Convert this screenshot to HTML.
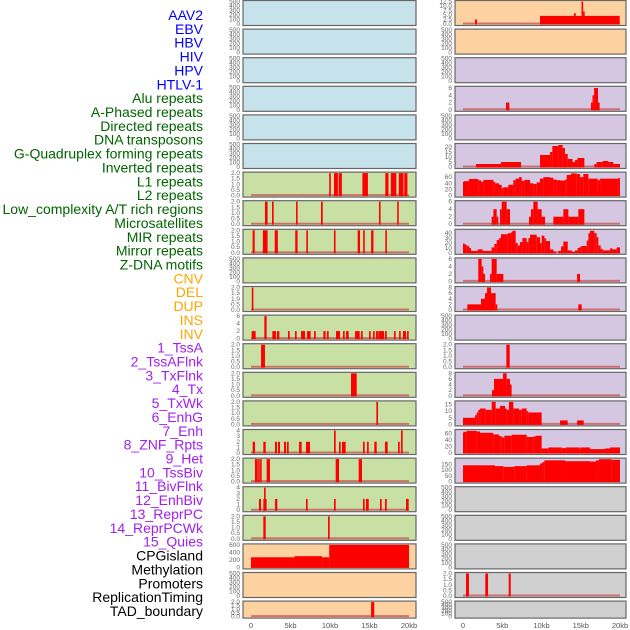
<!DOCTYPE html>
<html><head><meta charset="utf-8">
<style>
html,body{margin:0;padding:0;background:#fff;}
svg{display:block;font-family:"Liberation Sans",sans-serif;}
</style></head>
<body>
<svg id="chart" width="630" height="630" viewBox="0 0 630 630" xmlns="http://www.w3.org/2000/svg"></svg>
<script>
// ---- labels ----
const trackLabels = ["AAV2","EBV","HBV","HIV","HPV","HTLV-1","Alu repeats","A-Phased repeats","Directed repeats","DNA transposons","G-Quadruplex forming repeats","Inverted repeats","L1 repeats","L2 repeats","Low_complexity A/T rich regions","Microsatellites","MIR repeats","Mirror repeats","Z-DNA motifs","CNV","DEL","DUP","INS","INV","1_TssA","2_TssAFlnk","3_TxFlnk","4_Tx","5_TxWk","6_EnhG","7_Enh","8_ZNF_Rpts","9_Het","10_TssBiv","11_BivFlnk","12_EnhBiv","13_ReprPC","14_ReprPCWk","15_Quies","CPGisland","Methylation","Promoters","ReplicationTiming","TAD_boundary"];
const labelGroups = [6,13,5,15,5];
const groupColors = ["#0000ff","#006400","#ffa500","#a020f0","#000000"];
const xTickValues = [0,5,10,15,20];
const xTickLabels = ["0","5kb","10kb","15kb","20kb"];

// ---- left column data [startKb,endKb,value] ----
const l7 = [[9.9,10.1,2],[10.5,11.0,2],[11.1,11.5,2],[14.1,14.8,2],[17.0,17.4,2],[17.7,18.4,2],[18.7,19.3,2],[19.4,19.8,2]];
const l8 = [[1.77,2.1,2],[2.66,2.87,2],[5.7,5.9,2],[8.86,9.08,2],[16.2,16.4,2],[18.5,18.7,2]];
const l9 = [[0.2,0.47,2],[1.5,2.1,2],[3.0,3.4,2],[5.6,5.9,2],[7.0,7.2,2],[10.5,10.7,2],[13.5,13.8,2],[14.2,14.4,2],[15.2,15.5,2],[17.0,17.2,2]];
const l11 = [[0.1,0.3,2]];
const l12 = [[0.08,0.59,2],[1.69,1.98,6],[2.7,3.17,2],[3.29,3.59,2],[4.68,4.9,2],[5.57,5.78,2],[6.33,6.84,2],[7.09,7.55,2],[7.98,8.19,2],[9.16,9.45,2],[9.62,9.83,2],[10.76,11.27,2],[11.65,11.86,2],[12.03,12.36,2],[13.17,13.76,2],[13.93,14.14,2],[14.94,15.15,2],[15.45,15.66,2],[15.83,16.12,2],[16.16,16.84,2],[16.96,17.18,2],[18.1,18.31,2],[18.74,18.95,2],[19.24,19.62,2],[19.75,19.96,2]];
const l13 = [[1.27,1.77,2]];
const l14 = [[12.66,13.38,2]];
const l15 = [[15.87,16.08,2]];
const l16 = [[0.21,0.51,2],[1.56,1.86,2],[3.04,3.29,2],[3.42,3.67,2],[4.18,4.43,2],[4.56,4.77,2],[6.08,6.41,2],[6.96,7.47,2],[10.51,10.72,4],[11.14,11.35,2],[11.52,11.98,2],[14.18,14.39,2],[14.69,14.9,2],[15.61,15.91,2],[16.96,17.3,2],[18.61,18.82,2],[18.99,19.2,4]];
const l17 = [[0.5,0.85,2],[0.9,1.1,2],[1.15,1.35,2],[1.98,2.4,2],[10.72,11.14,2],[13.63,14.05,2]];
const l18 = [[1.01,1.27,2],[1.56,1.65,2],[1.65,1.77,4],[1.77,1.86,2],[3.04,3.33,2],[6.96,7.17,2],[10.51,10.72,2],[14.18,14.39,2],[14.56,14.9,2],[16.33,16.54,2],[16.96,17.18,2],[19.62,19.96,2]];
const l19 = [[1.56,1.86,2],[9.75,9.96,2]];
const l20 = [[0,5.5,270],[5.5,9.0,300],[9.0,9.9,270],[9.9,20,600]];
const l22 = [[15.2,15.6,2]];

// ---- right column data ----
const r1 = [[1.53,1.78,2.5],[9.81,19.96,4.5],[14.14,14.36,6],[15.1,15.3,13],[15.3,15.45,7]];
const r4 = [[5.48,5.9,2],[16.3,16.5,2],[16.5,16.7,4],[16.7,17.2,6],[17.2,17.3,2]];
const r6 = [[1.66,4.84,3],[4.84,7.39,5],[9.81,11.09,12],[11.09,11.38,15],[11.38,12.15,21],[12.15,12.7,22],[12.7,12.99,19],[12.99,13.34,13],[13.34,13.97,8],[13.97,14.27,5],[14.27,14.57,7],[14.57,15.46,9],[16.73,17.03,3],[17.03,17.8,5],[17.8,18.52,6],[18.52,19.15,5],[19.15,20.0,3]];
const r7 = [[0,0.17,45],[0.17,0.77,47],[0.77,1.95,54],[1.95,2.29,50],[2.29,2.59,45],[2.59,3.87,51],[3.87,4.08,45],[4.08,4.59,40],[4.59,4.93,35],[4.93,5.14,25],[5.14,5.78,27],[5.78,6.41,35],[6.41,6.71,50],[6.71,7.14,55],[7.14,7.48,60],[7.48,7.82,48],[7.82,8.54,51],[8.54,8.96,40],[8.96,9.39,38],[9.39,9.81,43],[9.81,10.24,55],[10.24,11.09,60],[11.09,11.51,58],[11.51,11.93,52],[11.93,12.36,50],[12.36,13.0,49],[13.0,13.21,52],[13.21,13.76,67],[13.76,14.48,72],[14.48,14.91,70],[14.91,15.33,60],[15.33,15.97,70],[15.97,17.16,55],[17.16,17.46,50],[17.46,19.79,55],[19.79,20.0,57]];
const r8 = [[3.65,3.87,2],[3.87,4.29,4],[4.29,4.42,2],[4.71,4.93,4],[4.93,5.56,6],[5.56,5.99,4],[8.41,8.66,2],[8.66,8.96,4],[8.96,9.51,6],[9.51,10.02,4],[10.02,10.45,2],[11.51,12.78,2],[12.78,13.42,4],[13.42,14.69,2],[14.69,15.46,4]];
const r9 = [[0,0.17,19],[0.17,0.47,17],[0.47,0.77,14],[0.77,1.02,10],[1.02,1.87,4],[1.87,2.51,7],[2.51,3.65,4],[3.65,3.99,11],[3.99,4.29,18],[4.29,4.59,26],[4.59,4.84,30],[4.84,5.69,38],[5.69,6.12,40],[6.12,6.29,42],[6.29,6.71,45],[6.71,6.97,20],[6.97,7.26,15],[7.26,7.56,22],[7.56,8.11,30],[8.11,8.33,22],[8.33,8.54,30],[8.54,9.39,37],[9.39,9.81,32],[9.81,10.02,20],[10.02,10.36,35],[10.36,10.53,30],[10.53,11.09,24],[11.09,11.51,7],[11.51,11.81,3],[12.15,12.49,4],[12.49,12.78,13],[12.78,13.34,23],[13.34,13.85,5],[13.85,14.27,2],[14.27,14.61,5],[14.61,14.91,10],[14.91,15.12,13],[15.12,15.76,14],[15.76,15.97,25],[15.97,16.18,40],[16.18,16.73,45],[16.73,17.03,40],[17.03,17.24,32],[17.24,17.54,15],[17.54,17.8,8],[17.8,18.73,5],[18.73,19.03,9],[19.03,19.58,7],[19.58,20.0,11]];
const r10 = [[1.95,2.38,6],[2.38,2.51,4],[2.51,2.8,2],[3.44,3.65,2],[3.65,4.29,6],[4.29,5.14,2],[14.53,14.91,2]];
const r11 = [[0.55,2.29,2],[2.29,2.8,4],[2.8,3.06,6],[3.06,3.57,8],[3.57,4.16,6],[4.16,4.29,2],[14.69,15.12,2]];
const r13 = [[5.52,5.95,2]];
const r14 = [[3.69,3.95,2],[3.95,5.1,6],[5.1,5.56,8],[5.56,5.99,6],[5.99,6.12,4]];
const r15 = [[0,1.53,5],[1.53,1.74,7],[1.74,1.95,9],[1.95,2.17,11],[2.17,2.89,12],[2.89,3.65,11],[3.65,4.16,17],[4.16,4.71,12],[4.71,5.35,14],[5.35,5.56,12],[5.56,5.86,11],[5.86,6.41,17],[6.41,7.14,12],[7.14,7.48,11],[7.48,8.11,12],[8.11,8.33,10],[8.33,10.02,9],[12.36,13.34,3],[14.53,15.38,3]];
const r16 = [[0,0.04,62],[0.04,0.47,65],[0.47,1.74,68],[1.74,2.17,66],[2.17,3.87,62],[3.87,4.59,57],[4.59,4.93,52],[4.93,5.27,48],[5.27,6.2,53],[6.2,8.11,56],[8.11,8.96,49],[8.96,9.3,51],[9.3,10.02,53],[10.02,10.87,14],[10.87,12.57,17],[12.57,13.08,15],[13.08,14.78,17],[14.78,14.91,14],[14.91,16.18,17],[16.18,18.09,12],[18.09,18.73,14],[18.73,20.0,17]];
const r17 = [[0,4.08,142],[4.08,5.14,135],[5.14,6.54,128],[6.54,8.11,135],[8.11,9.81,142],[9.81,10.11,158],[10.11,10.36,170],[10.36,13.0,185],[13.0,16.18,178],[16.18,16.95,175],[16.95,17.33,185],[17.33,18.94,195],[18.94,20.0,190]];
const r21 = [[0.38,0.76,2],[2.84,3.19,2],[5.82,6.08,2]];

// ---- panel configs ----
const leftData = [null,null,null,null,null,null,l7,l8,l9,null,l11,l12,l13,l14,l15,l16,l17,l18,l19,l20,null,l22];
const leftYmax = [500,500,500,500,500,500,2,2,2,500,2,6,2,2,2,4,2,4,2,600,500,2];
const leftTicks = ["e","e","e","e","e","e","h","h","h","e","h","s6","h","h","h","s4","h","s4","h","c","e","h"];
const leftBg = ["b","b","b","b","b","b","g","g","g","g","g","g","g","g","g","g","g","g","g","o","o","o"];
const rightData = [r1,null,null,r4,null,r6,r7,r8,r9,r10,r11,null,r13,r14,r15,r16,r17,null,null,null,r21,null];
const rightYmax = [12.5,500,500,6.2,500,22.5,73,6,46,6,8,500,2,8,17,69,196,500,500,500,2,500];
const rightTicks = ["a","e","e","s6","e","f20","t60","s6","f40","s6","s8","e","h","s8","f15","t60","f150","e","e","e","h","e"];
const rightBg = ["o","o","l","l","l","l","l","l","l","l","l","l","l","l","l","l","l","p","p","p","p","p"];

const tickSets = {
  e:[0,100,200,300,400,500], h:[0,0.5,1,1.5,2], s6:[0,2,4,6], s4:[0,1,2,3,4], s8:[0,2,4,6,8],
  c:[0,200,400,600], a:[0,2.5,5,7.5,10,12.5], f20:[0,5,10,15,20], t60:[0,20,40,60],
  f40:[0,10,20,30,40], f15:[0,5,10,15], f150:[0,50,100,150]
};
const bgColors = {b:"#c6e2eb",g:"#c8e0a4",o:"#fed2a0",l:"#d5c6e2",p:"#d0d0d0"};

const svg = document.getElementById('chart');
const NS = "http://www.w3.org/2000/svg";
function mk(tag, attrs, parent){
  const e = document.createElementNS(NS, tag);
  for (const k in attrs) e.setAttribute(k, attrs[k]);
  (parent||svg).appendChild(e);
  return e;
}

// labels
let li = 0;
labelGroups.forEach((n, g) => {
  for (let i = 0; i < n; i++) {
    const t = mk('text', {x:203, y:15 + li*13.86, 'text-anchor':'end', 'dominant-baseline':'central', 'font-size':'14', fill:groupColors[g]});
    
    
    t.textContent = trackLabels[li];
    li++;
  }
});

function fmt(v, key){
  if (key === 'h') return v.toFixed(1);
  if (key === 'a') return v.toFixed(1);
  return String(v);
}

function drawColumn(colName, px0, px1, x0, x1, data, ymaxs, ticks, bgs){
  const xs = kb => x0 + kb/20*(x1-x0);
  for (let i = 0; i < 22; i++) {
    const top = i*28.6 + 0.5;
    const h = (i === 21) ? 17 : 25;
    const g = mk('g', {});
    
    
    const bg = mk('rect', {x:px0, y:top, width:px1-px0, height:h, fill:bgColors[bgs[i]]}, g);
    
    
    const ymax = ymaxs[i];
    const yBot = top + h - 1.5, yTop = top + 1;
    const ys = v => yBot - v/ymax*(yBot-yTop);
    // ticks
    const tk = tickSets[ticks[i]];
    tk.forEach(v => {
      const t = mk('text', {x:px0-3, y:ys(v)+2, 'text-anchor':'end', 'font-size':'6.5', fill:'#666'}, g);
      
      
      t.textContent = fmt(v, ticks[i]);
    });
    const d = data[i];
    if (d) {
      const bl = mk('rect', {x:xs(0), y:yBot-1.5, width:xs(20)-xs(0), height:2, fill:'#c85a5a', opacity:0.8}, g);
      
      
      d.forEach(s => {
        const xa = xs(s[0]), xb = xs(s[1]);
        const w = Math.max(xb - xa, 1.6);
        const yv = Math.max(ys(s[2]), yTop);
        const b = mk('rect', {x:xa, y:yv, width:w, height:yBot - yv + 0.5, fill:'#ff0000'}, g);
        
        
      });
    }
    const br = mk('rect', {x:px0, y:top, width:px1-px0, height:h, fill:'none', stroke:'#666', 'stroke-width':1.2}, g);
    
    
  }
  xTickValues.forEach((v, k) => {
    const t = mk('text', {x:xs(v), y:628, 'text-anchor':'middle', 'font-size':'7.5', fill:'#555'});
    
    
    t.textContent = xTickLabels[k];
  });
}

drawColumn('left', 243, 416, 251, 409, leftData, leftYmax, leftTicks, leftBg);
drawColumn('right', 455, 626, 463, 620, rightData, rightYmax, rightTicks, rightBg);
</script>
</body></html>
